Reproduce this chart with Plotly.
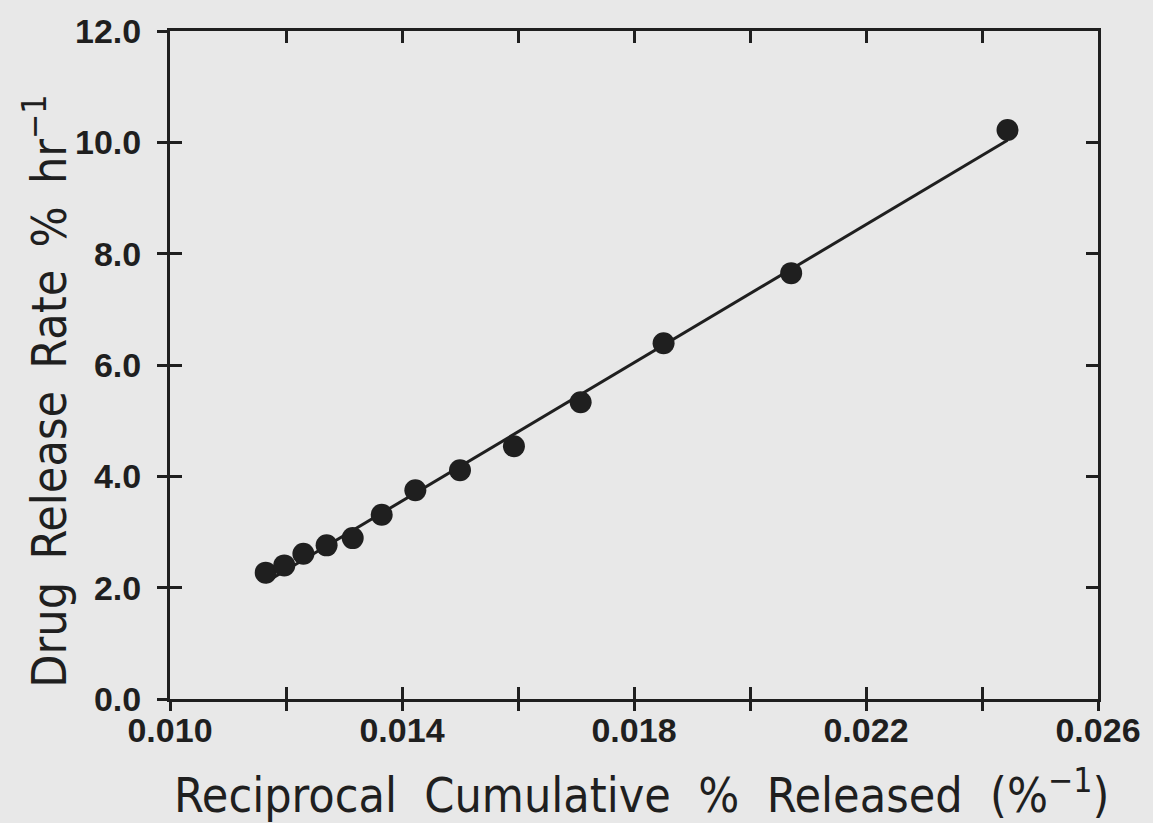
import numpy as np
import plotly.graph_objects as go

# Reciprocal cumulative % released (1/%) and drug release rate (% per hour)
recip_cum_released = [0.01165, 0.01197, 0.01230, 0.01270, 0.01315, 0.01365, 0.01423,
                      0.01500, 0.01593, 0.01708, 0.01851, 0.02071, 0.02444]
release_rate = [2.27, 2.40, 2.61, 2.76, 2.89, 3.31, 3.75, 4.11, 4.54, 5.33, 6.39, 7.65, 10.22]

x_tick_vals = [0.010, 0.012, 0.014, 0.016, 0.018, 0.020, 0.022, 0.024, 0.026]
x_label_vals = [0.010, 0.014, 0.018, 0.022, 0.026]
x_label_text = ["0.010", "0.014", "0.018", "0.022", "0.026"]
y_tick_vals = [0, 2, 4, 6, 8, 10, 12]
y_tick_text = ["0.0", "2.0", "4.0", "6.0", "8.0", "10.0", "12.0"]

x_range = [0.010, 0.026]
y_range = [0, 12]

# least-squares line through the points
slope, intercept = np.polyfit(recip_cum_released, release_rate, 1)
fit_x = np.array([min(recip_cum_released), max(recip_cum_released)])
fit_y = slope * fit_x + intercept

INK = "#1f1f1f"
BG = "#e8e8e8"
TICK_FONT = dict(family="Liberation Sans, Arial, sans-serif", size=34, color=INK, weight="bold")
TITLE_FONT = dict(family="DejaVu Sans Condensed, DejaVu Sans, sans-serif", size=48, color=INK)

fig = go.Figure()
fig.add_trace(go.Scatter(x=fit_x, y=fit_y, mode="lines",
                         line=dict(color=INK, width=3), hoverinfo="skip", showlegend=False))
fig.add_trace(go.Scatter(x=recip_cum_released, y=release_rate, mode="markers",
                         marker=dict(color=INK, size=22, line=dict(width=0)), showlegend=False))
# invisible traces on the overlay axes that carry the outward ticks and labels
fig.add_trace(go.Scatter(x=[x_range[0]], y=[y_range[0]], xaxis="x2", yaxis="y2",
                         mode="markers", marker=dict(opacity=0), hoverinfo="skip", showlegend=False))
fig.add_trace(go.Scatter(x=[x_range[0]], y=[y_range[0]], xaxis="x3", yaxis="y2",
                         mode="markers", marker=dict(opacity=0), hoverinfo="skip", showlegend=False))

axis_common = dict(showgrid=False, zeroline=False, linecolor=INK, linewidth=3,
                   tickcolor=INK, tickwidth=2.5)

fig.update_layout(
    width=1153, height=823,
    margin=dict(l=170, r=49, t=22, b=124),
    paper_bgcolor=BG, plot_bgcolor=BG,
    # frame with inward ticks on all four sides
    xaxis=dict(range=x_range, tickmode="array", tickvals=x_tick_vals, showticklabels=False,
               ticks="inside", ticklen=12, showline=True, mirror="ticks", **axis_common),
    yaxis=dict(range=y_range, tickmode="array", tickvals=y_tick_vals, showticklabels=False,
               ticks="inside", ticklen=12, showline=True, mirror="ticks", **axis_common),
    # outward tick halves on the bottom
    xaxis2=dict(range=x_range, overlaying="x", side="bottom", anchor="y2", tickmode="array",
                tickvals=x_tick_vals, ticks="outside", ticklen=11, showticklabels=False,
                showline=False, **axis_common),
    # labelled bottom ticks (every other tick)
    xaxis3=dict(range=x_range, overlaying="x", side="bottom", anchor="y2", tickmode="array",
                tickvals=x_label_vals, ticktext=x_label_text, ticks="outside", ticklen=11,
                showline=False, tickfont=TICK_FONT, ticklabelstandoff=-10, **axis_common),
    # outward tick halves and labels on the left
    yaxis2=dict(range=y_range, overlaying="y", side="left", anchor="x2", tickmode="array",
                tickvals=y_tick_vals, ticktext=y_tick_text, ticks="outside", ticklen=12,
                showline=False, tickfont=TICK_FONT, ticklabelstandoff=9, **axis_common),
)

fig.add_annotation(text="Reciprocal  Cumulative  %  Released  (%<sup>−1</sup>)",
                   xref="paper", yref="paper", x=0.5086, y=-0.139,
                   xanchor="center", yanchor="middle", showarrow=False, font=TITLE_FONT)
fig.add_annotation(text="Drug \u2009Release \u2009Rate \u2009% \u2009hr<sup>−1</sup>",
                   xref="paper", yref="paper", x=-0.134, y=0.461, textangle=-90,
                   xanchor="center", yanchor="middle", showarrow=False, font=TITLE_FONT)

fig.write_html("out.html")
